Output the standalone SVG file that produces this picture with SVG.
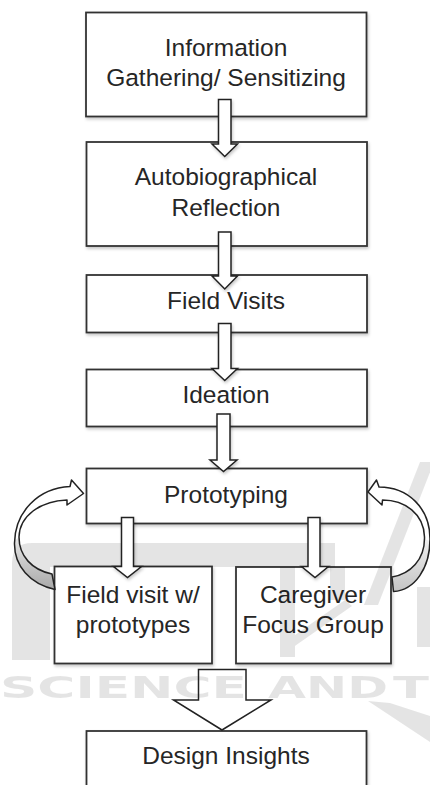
<svg xmlns="http://www.w3.org/2000/svg" width="430" height="785" viewBox="0 0 430 785">
<defs>
<style>
.box{fill:#fff;stroke:#333;stroke-width:1.8;filter:url(#sh)}
.lbl{font-family:"Liberation Sans",Arial,Helvetica,sans-serif;font-size:24.5px;fill:#262626;text-anchor:middle}
.arr{fill:#fff;stroke:#222;stroke-width:1.5;stroke-linejoin:miter;filter:url(#sh)}
.curve{fill:none;stroke:#222;stroke-width:1.5;stroke-linejoin:round}
.wm{font-family:"DejaVu Sans",Verdana,sans-serif;font-weight:bold;font-size:30px;fill:#000}
</style>
<filter id="sh" x="-10%" y="-10%" width="130%" height="140%">
<feDropShadow dx="1" dy="2" stdDeviation="1.5" flood-color="#000" flood-opacity="0.22"/>
</filter>
<linearGradient id="gl" x1="0" y1="0" x2="0" y2="1">
<stop offset="0" stop-color="#e8e8e8"/><stop offset="1" stop-color="#a8a8a8"/>
</linearGradient>
<linearGradient id="gr" x1="0" y1="0" x2="0" y2="1">
<stop offset="0" stop-color="#f0f0f0"/><stop offset="1" stop-color="#c4c4c4"/>
</linearGradient>
</defs>
<rect width="430" height="785" fill="#fff"/>

<g id="nodes">
<g id="n-info"><rect class="box" x="86" y="12.5" width="280.5" height="104"/>
<text class="lbl" x="226" y="56">Information</text>
<text class="lbl" x="226" y="86">Gathering/ Sensitizing</text></g>
<g id="n-auto"><rect class="box" x="86.5" y="142" width="280.5" height="104"/>
<text class="lbl" x="226" y="185">Autobiographical</text>
<text class="lbl" x="226" y="215.5">Reflection</text></g>
<g id="n-field"><rect class="box" x="86.5" y="275" width="280.5" height="57.5"/>
<text class="lbl" x="226" y="309">Field Visits</text></g>
<g id="n-ideation"><rect class="box" x="86.5" y="369.5" width="280.5" height="57"/>
<text class="lbl" x="226" y="402.5">Ideation</text></g>
<g id="n-proto"><rect class="box" x="86.5" y="468.5" width="280.5" height="55"/>
<text class="lbl" x="226" y="503">Prototyping</text></g>
<g id="n-fvp"><rect class="box" x="54.5" y="566.5" width="157.5" height="97"/>
<text class="lbl" x="133" y="603">Field visit w/</text>
<text class="lbl" x="133" y="633">prototypes</text></g>
<g id="n-cfg"><rect class="box" x="236" y="567" width="155" height="96.5"/>
<text class="lbl" x="313" y="603">Caregiver</text>
<text class="lbl" x="313" y="633">Focus Group</text></g>
<g id="n-design"><rect class="box" x="86.5" y="731" width="280" height="70"/>
<text class="lbl" x="226" y="764">Design Insights</text></g>
</g>

<g id="watermark" opacity="0.1" fill="#000">
<path d="M32,543 H335 V567 H50 V660 H12 V563 Q12,543 32,543 Z"/>
<polygon points="420,462 434,462 378,605 364,605"/>
<rect x="280" y="567" width="15" height="90"/>
<rect x="330" y="567" width="15" height="33"/>
<polygon points="345,600 352,606 292,648 285,642"/>
<rect x="417" y="587" width="13" height="60"/>
<polygon points="368,701 390,703 430,716 430,742"/>
<text class="wm" x="0" y="698" textLength="247" lengthAdjust="spacingAndGlyphs">SCIENCE</text>
<text class="wm" x="268" y="698" textLength="120" lengthAdjust="spacingAndGlyphs">AND</text>
<text class="wm" x="393" y="698" textLength="36" lengthAdjust="spacingAndGlyphs">T</text>
</g>

<g id="connectors">
<path class="arr" d="M218.5,99.5 H231 V144 H237.5 L224.75,156.5 L212,144 H218.5 Z"/>
<path class="arr" d="M218.5,232 H231 V276 H237.5 L224.75,289 L212,276 H218.5 Z"/>
<path class="arr" d="M218.5,323.5 H231 V368.5 H237.5 L224.75,380.5 L212,368.5 H218.5 Z"/>
<path class="arr" d="M217,414 H230 V460 H237 L223.5,471.5 L210,460 H217 Z"/>
<path class="arr" d="M121.5,517.5 H133.5 V566.5 H141.5 L127.5,577.5 L113.5,566.5 H121.5 Z"/>
<path class="arr" d="M308,517.5 H320 V566.5 H328.5 L315,577.5 L301.5,566.5 H308 Z"/>
<path d="M198.5,669.5 H246 V700 H271 L222,730 L173.5,700 H198.5 Z" fill="none" stroke="#222" stroke-width="1.5"/>
<g id="loop-left">
<path d="M52,574 L55,589.5 C30,584 14,566 14.5,543 C15,512 38,488 70,486.5 L71.5,480 L83.5,493.5 L67,505 L67,500 C40,501 19.5,516 19,537 C19,556 32,570 52,574 Z" fill="#fff"/>
<path d="M14.5,541 C14,566 30,584 55,589.5 L52,574 C32,570 19,556 19,537 Z" fill="url(#gl)"/>
<path class="curve" d="M52,574 L55,589.5 C30,584 14,566 14.5,543 C15,512 38,488 70,486.5 L71.5,480 L83.5,493.5 L67,505 L67,500 C40,501 19.5,516 19,537 C19,556 32,570 52,574 Z"/>
</g>
<g id="loop-right">
<path d="M392,577 L393.5,591.5 C415,590 430,568 430,539 C430,508 408,487 379,487 L376.5,480 L368,492 L382,505 L382.5,500 C405,500 424,514 424.5,537 C425,560 410,574 392,577 Z" fill="#fff"/>
<path d="M430,541 C430,568 415,590 393.5,591.5 L392,577 C410,574 425,560 424.5,539 Z" fill="url(#gr)"/>
<path class="curve" d="M392,577 L393.5,591.5 C415,590 430,568 430,539 C430,508 408,487 379,487 L376.5,480 L368,492 L382,505 L382.5,500 C405,500 424,514 424.5,537 C425,560 410,574 392,577 Z"/>
</g>
</g>
</svg>
